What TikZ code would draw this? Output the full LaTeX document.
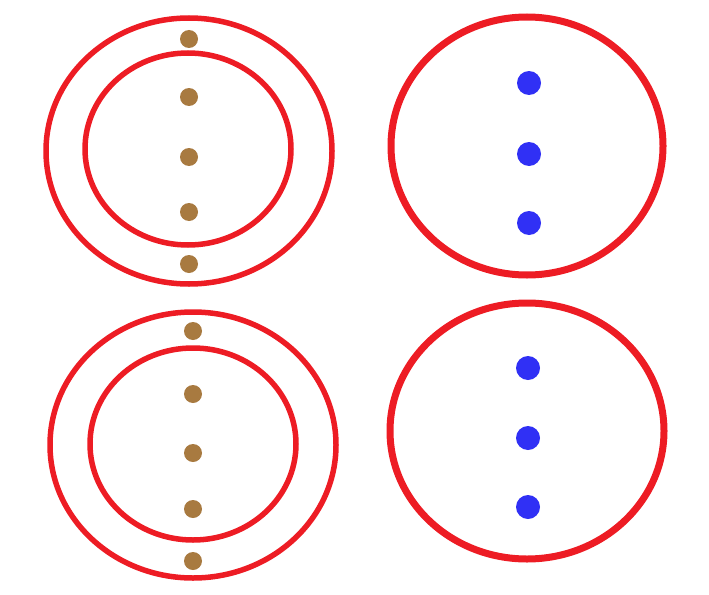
\documentclass[tikz,border=0pt]{standalone}
\usepackage{tikz}

\definecolor{ringred}{RGB}{237,28,36}
\definecolor{dotbrown}{RGB}{168,122,64}
\definecolor{dotblue}{RGB}{48,48,245}

\begin{document}
\begin{tikzpicture}[
  x=1pt, y=-1pt,
  ring/.style={draw=ringred, line width=5.5pt},
  thickring/.style={draw=ringred, line width=7pt},
  browndot/.style={fill=dotbrown},
  bluedot/.style={fill=dotblue}
]
\useasboundingbox (0,0) rectangle (709,594);

% top left: two rings with brown dots
\draw [ring] (189,151) ellipse [x radius=143, y radius=133];
\draw [ring] (188,149) ellipse [x radius=103, y radius=96];
\foreach \y in {39,97,157,212,264}
  \fill [browndot] (189,\y) circle (9);

% top right: one ring with blue dots
\draw [thickring] (527,146) ellipse [x radius=136, y radius=129];
\foreach \y in {83,154,223}
  \fill [bluedot] (529,\y) circle (12);

% bottom left
\draw [ring] (193,445) ellipse [x radius=143, y radius=133];
\draw [ring] (193,444) ellipse [x radius=103, y radius=96];
\foreach \y in {331,394,453,509,561}
  \fill [browndot] (193,\y) circle (9);

% bottom right
\draw [thickring] (527,431) ellipse [x radius=137, y radius=128];
\foreach \y in {368,438,507}
  \fill [bluedot] (528,\y) circle (12);
\end{tikzpicture}
\end{document}
